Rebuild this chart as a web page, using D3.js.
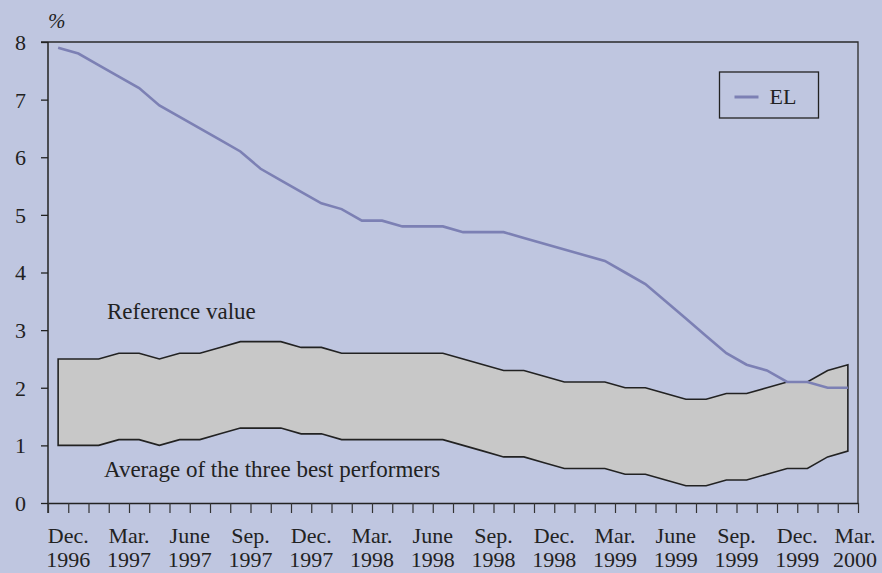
<!DOCTYPE html>
<html>
<head>
<meta charset="utf-8">
<script src="https://cdn.jsdelivr.net/npm/d3@7"></script>
<style>
  body { margin: 0; background: #bfc6e0; }
  svg { display: block; }
</style>
</head>
<body>
<div id="chart"></div>
<script>
// monthly observations, Dec. 1996 .. Mar. 2000
var months = d3.timeMonth.range(new Date(1996, 11, 1), new Date(2000, 3, 1));

var el = [7.9, 7.8, 7.6, 7.4, 7.2, 6.9, 6.7, 6.5, 6.3, 6.1,
          5.8, 5.6, 5.4, 5.2, 5.1, 4.9, 4.9, 4.8, 4.8, 4.8,
          4.7, 4.7, 4.7, 4.6, 4.5, 4.4, 4.3, 4.2, 4.0, 3.8,
          3.5, 3.2, 2.9, 2.6, 2.4, 2.3, 2.1, 2.1, 2.0, 2.0];

var refValue = [2.5, 2.5, 2.5, 2.6, 2.6, 2.5, 2.6, 2.6, 2.7, 2.8,
                2.8, 2.8, 2.7, 2.7, 2.6, 2.6, 2.6, 2.6, 2.6, 2.6,
                2.5, 2.4, 2.3, 2.3, 2.2, 2.1, 2.1, 2.1, 2.0, 2.0,
                1.9, 1.8, 1.8, 1.9, 1.9, 2.0, 2.1, 2.1, 2.3, 2.4];

var bestThree = [1.0, 1.0, 1.0, 1.1, 1.1, 1.0, 1.1, 1.1, 1.2, 1.3,
                 1.3, 1.3, 1.2, 1.2, 1.1, 1.1, 1.1, 1.1, 1.1, 1.1,
                 1.0, 0.9, 0.8, 0.8, 0.7, 0.6, 0.6, 0.6, 0.5, 0.5,
                 0.4, 0.3, 0.3, 0.4, 0.4, 0.5, 0.6, 0.6, 0.8, 0.9];

var tickLabels = [["Dec.", "1996"], ["Mar.", "1997"], ["June", "1997"], ["Sep.", "1997"],
                  ["Dec.", "1997"], ["Mar.", "1998"], ["June", "1998"], ["Sep.", "1998"],
                  ["Dec.", "1998"], ["Mar.", "1999"], ["June", "1999"], ["Sep.", "1999"],
                  ["Dec.", "1999"], ["Mar.", "2000"]];

var FONT = "'Liberation Serif', 'Times New Roman', serif";
var INK = "#222";

var width = 882, height = 573;
var margin = {top: 42, right: 24, bottom: 70, left: 48};
var x0 = margin.left, x1 = width - margin.right;
var yTop = margin.top, yBot = height - margin.bottom;

var svg = d3.select("#chart").append("svg")
    .attr("width", width)
    .attr("height", height)
    .style("font-family", FONT);

svg.append("rect")
    .attr("width", width).attr("height", height)
    .attr("fill", "#bfc6e0");

// one band per month
var x = d3.scaleBand()
    .domain(d3.range(months.length))
    .range([x0, x1])
    .padding(0);
var xEdge = d3.scaleLinear()
    .domain([0, months.length])
    .range([x0, x1]);
var y = d3.scaleLinear()
    .domain([0, 8])
    .range([yBot, yTop]);

function cx(i) { return x(i) + x.bandwidth() / 2; }

// frame (top and right)
svg.append("path")
    .attr("d", "M" + (x0 - 7) + "," + yTop + "H" + x1 + "V" + yBot)
    .attr("fill", "none")
    .attr("stroke", "#2a2a2a")
    .attr("stroke-width", 1.3);

// band between best performers and reference value
var area = d3.area()
    .x(function(d, i) { return cx(i); })
    .y0(function(d, i) { return y(bestThree[i]); })
    .y1(function(d) { return y(d); });

svg.append("path")
    .datum(refValue)
    .attr("d", area)
    .attr("fill", "#c8c8c8")
    .attr("stroke", INK)
    .attr("stroke-width", 1.6);

// EL line
svg.append("path")
    .datum(el)
    .attr("fill", "none")
    .attr("stroke", "#7c80b4")
    .attr("stroke-width", 2.6)
    .attr("d", d3.line()
        .x(function(d, i) { return cx(i); })
        .y(function(d) { return y(d); }));

// y axis
var yAxis = svg.append("g")
    .attr("transform", "translate(" + x0 + ",0)")
    .call(d3.axisLeft(y).ticks(8).tickSize(7).tickSizeOuter(0).tickPadding(15));
yAxis.select(".domain").attr("stroke", INK).attr("stroke-width", 1.5)
    .attr("d", "M0," + yTop + "V" + (yBot + 10));
yAxis.selectAll(".tick line").attr("stroke", INK).attr("stroke-width", 1.3);
yAxis.selectAll(".tick text")
    .style("font-family", FONT)
    .style("font-size", "22px")
    .attr("fill", INK)
    .attr("dy", "0.34em");

// x axis, a tick at every month boundary
var xAxis = svg.append("g")
    .attr("transform", "translate(0," + yBot + ")")
    .call(d3.axisBottom(xEdge)
        .tickValues(d3.range(months.length + 1))
        .tickFormat("")
        .tickSize(10)
        .tickSizeOuter(0));
xAxis.select(".domain").attr("stroke", INK).attr("stroke-width", 1.5);
xAxis.selectAll(".tick line").attr("stroke", "#333").attr("stroke-width", 1.2);

var labelG = svg.append("g")
    .style("font-family", FONT)
    .style("font-size", "22px")
    .attr("fill", INK)
    .attr("text-anchor", "middle");

tickLabels.forEach(function(t, k) {
    var i = k * 3;
    var lx = Math.min(xEdge(i + 1), width - 27);
    labelG.append("text").attr("x", lx).attr("y", yBot + 40).text(t[0]);
    labelG.append("text").attr("x", lx).attr("y", yBot + 64).text(t[1]);
});

// unit
svg.append("text")
    .attr("x", x0)
    .attr("y", 28)
    .style("font-family", FONT)
    .style("font-size", "21px")
    .style("font-style", "italic")
    .attr("fill", INK)
    .text("%");

// annotations
svg.append("text")
    .attr("x", 107).attr("y", 319)
    .style("font-family", FONT)
    .style("font-size", "23px")
    .attr("fill", INK)
    .text("Reference value");

svg.append("text")
    .attr("x", 104).attr("y", 477)
    .style("font-family", FONT)
    .style("font-size", "23px")
    .attr("fill", INK)
    .text("Average of the three best performers");

// legend
var legend = svg.append("g").attr("transform", "translate(719.5,72)");
legend.append("rect")
    .attr("width", 99).attr("height", 46)
    .attr("fill", "none")
    .attr("stroke", INK)
    .attr("stroke-width", 1.3);
legend.append("line")
    .attr("x1", 15).attr("x2", 39)
    .attr("y1", 25).attr("y2", 25)
    .attr("stroke", "#7c80b4")
    .attr("stroke-width", 3);
legend.append("text")
    .attr("x", 50).attr("y", 32)
    .style("font-family", FONT)
    .style("font-size", "22px")
    .attr("fill", INK)
    .text("EL");
</script>
</body>
</html>
